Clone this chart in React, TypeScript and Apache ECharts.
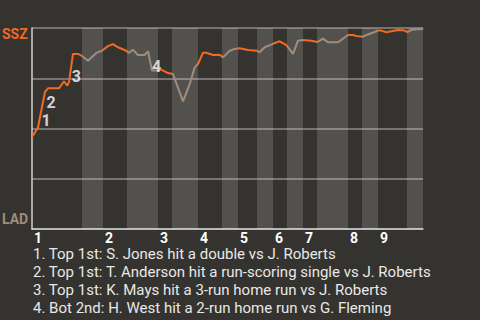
import React, { useEffect, useRef } from "react";
import * as echarts from "echarts";

// Game progress (event position) and SSZ win probability (%)
const progress = [0, 6, 9, 13, 16, 27, 32, 35.3, 37, 41, 46, 50, 56, 64.3, 70, 76, 81, 86, 94.3, 96.7, 101, 106, 112.7, 116, 120, 125, 129.3, 136, 141, 151, 157.7, 162.7, 166, 171, 174.3, 181, 187.7, 191, 197.7, 202.7, 207.7, 216, 225.3, 227.7, 232.7, 239.3, 242, 247.7, 252.7, 255.3, 261, 266, 271, 279.3, 285.3, 291, 296, 306, 316, 321, 324.3, 331, 334.3, 339.3, 346, 349.3, 354.3, 359.3, 366, 372.7, 375.3, 379.3, 384.3, 390, 391];
const winProb = [45.6, 50.5, 58.2, 68.2, 70.0, 70.0, 73.5, 71.3, 73.1, 87.1, 87.1, 86.1, 83.7, 87.6, 88.7, 91.0, 92.0, 90.4, 88.7, 87.6, 89.2, 86.6, 86.6, 88.4, 78.8, 78.8, 79.3, 77.6, 77.1, 63.5, 72.1, 80.4, 82.1, 87.7, 87.7, 86.6, 86.7, 85.4, 88.7, 89.6, 89.9, 89.1, 88.7, 87.9, 90.4, 91.7, 92.4, 93.4, 92.0, 90.9, 87.1, 93.7, 94.0, 93.7, 93.0, 94.7, 92.9, 92.9, 96.5, 96.5, 96.0, 95.7, 96.5, 97.4, 98.7, 98.7, 97.9, 98.4, 99.0, 98.7, 98.0, 99.0, 99.4, 99.4, 100];

// Half-inning boundaries (top 1st, bot 1st, top 2nd, ...)
const halfInningStarts = [0, 50, 71, 95, 126, 140, 166, 190, 206, 225, 241, 255, 271, 285, 316, 330, 346, 375, 391];
const inningLabels = ["1", "2", "3", "4", "5", "6", "7", "8", "9"];

const eventLabels = ["1", "2", "3", "4"];
const eventProgress = [8, 13, 38.3, 118.7];
const eventProb = [55.4, 64.2, 77.6, 82.2];

const footnotes = [
  "1. Top 1st: S. Jones hit a double vs J. Roberts",
  "2. Top 1st: T. Anderson hit a run-scoring single vs J. Roberts",
  "3. Top 1st: K. Mays hit a 3-run home run vs J. Roberts",
  "4. Bot 2nd: H. West hit a 2-run home run vs G. Fleming",
];

const ORANGE = "#f26a1f";
const GRAY = "#a08c7c";
const BG = "#35332f";
const FONT = "Roboto, 'Noto Sans', sans-serif";

export default function App() {
  const ref = useRef<HTMLDivElement>(null);
  useEffect(() => {
    if (!ref.current) return;
    const chart = echarts.init(ref.current, null, { renderer: "svg" });
    const inningStarts = halfInningStarts.filter((_, i) => i % 2 === 0 && i < 18);
    const pieces = [];
    for (let i = 0; i < halfInningStarts.length - 1; i++) {
      const p: any = { gte: halfInningStarts[i], color: i % 2 === 0 ? ORANGE : GRAY };
      if (i === halfInningStarts.length - 2) p.lte = halfInningStarts[i + 1] + 1;
      else p.lt = halfInningStarts[i + 1];
      pieces.push(p);
    }
    const bands = [];
    for (let i = 1; i < halfInningStarts.length - 1; i += 2) {
      bands.push([{ xAxis: halfInningStarts[i] }, { xAxis: halfInningStarts[i + 1] }]);
    }
    chart.setOption({
      animation: false,
      backgroundColor: BG,
      grid: { left: 32, top: 28, width: 391, height: 201 },
      xAxis: {
        type: "value",
        min: 0,
        max: halfInningStarts[halfInningStarts.length - 1],
        axisLine: { show: true, lineStyle: { color: "#cfcfcf", width: 1.5 } },
        axisTick: { show: false },
        splitLine: { show: false },
        axisLabel: {
          customValues: inningStarts,
          formatter: (v: number) => {
            const idx = inningStarts.indexOf(v);
            return idx >= 0 ? inningLabels[idx] : "";
          },
          color: "#ffffff",
          fontWeight: "bold",
          fontSize: 14,
          lineHeight: 12,
          fontFamily: FONT,
          align: "left",
          margin: 3,
          padding: [0, 0, 0, 2],
        },
      },
      yAxis: {
        type: "value",
        min: 0,
        max: 100,
        interval: 25,
        axisLine: { show: true, lineStyle: { color: "#cfcfcf", width: 1.5 } },
        axisTick: { show: false },
        axisLabel: { show: false },
        splitLine: { show: true, lineStyle: { color: "#8c8a87", width: 1.5 } },
      },
      visualMap: {
        type: "piecewise",
        show: false,
        dimension: 0,
        seriesIndex: 0,
        pieces,
      },
      series: [
        {
          type: "line",
          data: progress.map((x, i) => [x, winProb[i]]),
          symbol: "none",
          lineStyle: { width: 2 },
          z: 3,
        },
        {
          type: "line",
          data: [],
          z: 1,
          silent: true,
          markArea: {
            silent: true,
            itemStyle: { color: "rgba(255,255,255,0.15)" },
            data: bands,
          },
        },
        {
          type: "scatter",
          data: eventProgress.map((x, i) => ({
            value: [x, eventProb[i]],
            label: { formatter: eventLabels[i] },
          })),
          symbolSize: 0,
          z: 4,
          label: {
            show: true,
            position: "inside",
            offset: [6, 3],
            color: "#ffffff",
            fontWeight: "bold",
            fontSize: 16,
            fontFamily: FONT,
          },
        },
      ],
      graphic: [
        {
          type: "text",
          left: 2,
          top: 27,
          style: { text: "SSZ", fill: ORANGE, font: `bold 14px ${FONT}` },
        },
        {
          type: "text",
          left: 2,
          top: 212,
          style: { text: "LAD", fill: GRAY, font: `bold 14px ${FONT}` },
        },
        ...footnotes.map((t, i) => ({
          type: "text",
          left: 33,
          top: 246 + i * 18,
          style: { text: t, fill: "#e8e8e8", font: `15px ${FONT}`, lineHeight: 15 },
        })),
      ],
    });
    return () => chart.dispose();
  }, []);
  return (
    <div
      ref={ref}
      style={{ position: "fixed", left: 0, top: 0, width: 480, height: 320 }}
    />
  );
}
